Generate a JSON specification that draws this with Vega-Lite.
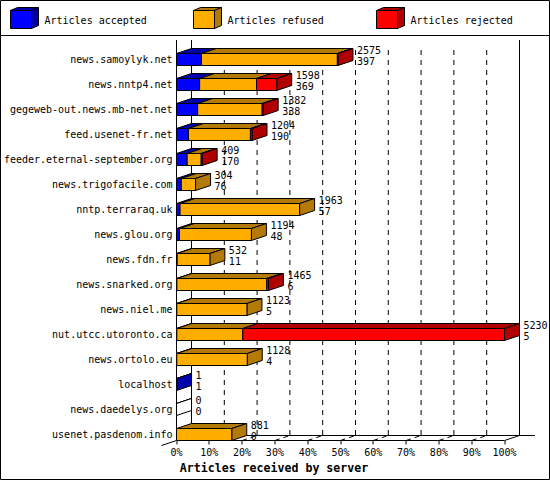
{
  "$schema": "https://vega.github.io/schema/vega-lite/v6.json",
  "padding": {"left": -1, "top": -1, "right": 0, "bottom": 0},
  "spacing": 0,
  "bounds": "flush",
  "background": "white",
  "config": {
    "view": {"stroke": "black", "strokeWidth": 1},
    "text": {"font": "DejaVu Sans Mono", "fontSize": 10, "color": "black"},
    "rule": {"color": "black", "strokeWidth": 1},
    "line": {"stroke": "black", "strokeWidth": 1, "interpolate": "linear-closed"}
  },
  "datasets": {
    "articles": [
      {"server": "news.samoylyk.net", "status": "accepted", "articles": 397},
      {"server": "news.samoylyk.net", "status": "refused", "articles": 2168},
      {"server": "news.samoylyk.net", "status": "rejected", "articles": 10},
      {"server": "news.nntp4.net", "status": "accepted", "articles": 369},
      {"server": "news.nntp4.net", "status": "refused", "articles": 907},
      {"server": "news.nntp4.net", "status": "rejected", "articles": 322},
      {"server": "gegeweb-out.news.mb-net.net", "status": "accepted", "articles": 338},
      {"server": "gegeweb-out.news.mb-net.net", "status": "refused", "articles": 1028},
      {"server": "gegeweb-out.news.mb-net.net", "status": "rejected", "articles": 16},
      {"server": "feed.usenet-fr.net", "status": "accepted", "articles": 190},
      {"server": "feed.usenet-fr.net", "status": "refused", "articles": 989},
      {"server": "feed.usenet-fr.net", "status": "rejected", "articles": 25},
      {"server": "feeder.eternal-september.org", "status": "accepted", "articles": 170},
      {"server": "feeder.eternal-september.org", "status": "refused", "articles": 224},
      {"server": "feeder.eternal-september.org", "status": "rejected", "articles": 15},
      {"server": "news.trigofacile.com", "status": "accepted", "articles": 76},
      {"server": "news.trigofacile.com", "status": "refused", "articles": 228},
      {"server": "nntp.terraraq.uk", "status": "accepted", "articles": 57},
      {"server": "nntp.terraraq.uk", "status": "refused", "articles": 1906},
      {"server": "news.glou.org", "status": "accepted", "articles": 48},
      {"server": "news.glou.org", "status": "refused", "articles": 1146},
      {"server": "news.fdn.fr", "status": "accepted", "articles": 11},
      {"server": "news.fdn.fr", "status": "refused", "articles": 521},
      {"server": "news.snarked.org", "status": "accepted", "articles": 6},
      {"server": "news.snarked.org", "status": "refused", "articles": 1434},
      {"server": "news.snarked.org", "status": "rejected", "articles": 25},
      {"server": "news.niel.me", "status": "accepted", "articles": 5},
      {"server": "news.niel.me", "status": "refused", "articles": 1118},
      {"server": "nut.utcc.utoronto.ca", "status": "accepted", "articles": 5},
      {"server": "nut.utcc.utoronto.ca", "status": "refused", "articles": 1052},
      {"server": "nut.utcc.utoronto.ca", "status": "rejected", "articles": 4173},
      {"server": "news.ortolo.eu", "status": "accepted", "articles": 4},
      {"server": "news.ortolo.eu", "status": "refused", "articles": 1124},
      {"server": "localhost", "status": "accepted", "articles": 1},
      {"server": "news.daedelys.org", "status": "none", "articles": 0},
      {"server": "usenet.pasdenom.info", "status": "refused", "articles": 881}
    ],
    "totals": [
      {"server": "news.samoylyk.net", "total": 2575, "accepted": 397},
      {"server": "news.nntp4.net", "total": 1598, "accepted": 369},
      {"server": "gegeweb-out.news.mb-net.net", "total": 1382, "accepted": 338},
      {"server": "feed.usenet-fr.net", "total": 1204, "accepted": 190},
      {"server": "feeder.eternal-september.org", "total": 409, "accepted": 170},
      {"server": "news.trigofacile.com", "total": 304, "accepted": 76},
      {"server": "nntp.terraraq.uk", "total": 1963, "accepted": 57},
      {"server": "news.glou.org", "total": 1194, "accepted": 48},
      {"server": "news.fdn.fr", "total": 532, "accepted": 11},
      {"server": "news.snarked.org", "total": 1465, "accepted": 6},
      {"server": "news.niel.me", "total": 1123, "accepted": 5},
      {"server": "nut.utcc.utoronto.ca", "total": 5230, "accepted": 5},
      {"server": "news.ortolo.eu", "total": 1128, "accepted": 4},
      {"server": "localhost", "total": 1, "accepted": 1},
      {"server": "news.daedelys.org", "total": 0, "accepted": 0},
      {"server": "usenet.pasdenom.info", "total": 881, "accepted": 0}
    ],
    "ticks": [
      {"tick": 523}, {"tick": 1046}, {"tick": 1569}, {"tick": 2092}, {"tick": 2615},
      {"tick": 3138}, {"tick": 3661}, {"tick": 4184}, {"tick": 4707}
    ],
    "legend": [
      {"status": "accepted", "label": "Articles accepted"},
      {"status": "refused", "label": "Articles refused"},
      {"status": "rejected", "label": "Articles rejected"}
    ]
  },
  "vconcat": [
    {
      "width": 549,
      "height": 35,
      "data": {"name": "legend"},
      "layer": [
        {
          "transform": [
            {"calculate": "[0,1,2,3]", "as": "corner"},
            {"flatten": ["corner"]},
            {"calculate": "[-10.5,10.5,17.5,-3.5][datum.corner]", "as": "dx"},
            {"calculate": "[-7,-7,-10,-10][datum.corner]", "as": "dy"},
            {"calculate": "datum.status + ' dark'", "as": "shade"}
          ],
          "mark": {"type": "line", "filled": true, "stroke": "black"},
          "encoding": {
            "x": {"field": "status", "type": "nominal", "axis": null, "scale": {"type": "point", "padding": 0, "domain": ["accepted", "refused", "rejected"], "range": [21, 387]}},
            "xOffset": {"field": "dx", "type": "quantitative", "scale": null},
            "yOffset": {"field": "dy", "type": "quantitative", "scale": null},
            "order": {"field": "corner"},
            "fill": {"field": "shade", "type": "nominal", "legend": null, "scale": {"domain": ["accepted", "refused", "rejected", "none", "accepted dark", "refused dark", "rejected dark", "none dark"], "range": ["#0000ff", "#ffae00", "#ff0000", "#ffffff", "#0000aa", "#b47a08", "#b00000", "#ffffff"]}}
          }
        },
        {
          "transform": [
            {"calculate": "[0,1,2,3]", "as": "corner"},
            {"flatten": ["corner"]},
            {"calculate": "[10.5,10.5,17.5,17.5][datum.corner]", "as": "dx"},
            {"calculate": "[-7,11,8,-10][datum.corner]", "as": "dy"},
            {"calculate": "datum.status + ' dark'", "as": "shade"}
          ],
          "mark": {"type": "line", "filled": true, "stroke": "black"},
          "encoding": {
            "x": {"field": "status", "type": "nominal", "axis": null},
            "xOffset": {"field": "dx", "type": "quantitative", "scale": null},
            "yOffset": {"field": "dy", "type": "quantitative", "scale": null},
            "order": {"field": "corner"},
            "fill": {"field": "shade", "type": "nominal", "legend": null}
          }
        },
        {
          "transform": [
            {"calculate": "[0,1,2,3]", "as": "corner"},
            {"flatten": ["corner"]},
            {"calculate": "[-10.5,10.5,10.5,-10.5][datum.corner]", "as": "dx"},
            {"calculate": "[-7,-7,11,11][datum.corner]", "as": "dy"}
          ],
          "mark": {"type": "line", "filled": true, "stroke": "black"},
          "encoding": {
            "x": {"field": "status", "type": "nominal", "axis": null},
            "xOffset": {"field": "dx", "type": "quantitative", "scale": null},
            "yOffset": {"field": "dy", "type": "quantitative", "scale": null},
            "order": {"field": "corner"},
            "fill": {"field": "status", "type": "nominal", "legend": null}
          }
        },
        {
          "mark": {"type": "text", "align": "left", "xOffset": 23.5, "yOffset": 3},
          "encoding": {
            "x": {"field": "status", "type": "nominal", "axis": null},
            "text": {"field": "label"}
          }
        }
      ]
    },
    {
      "width": 549,
      "height": 444,
      "resolve": {"axis": {"x": "independent", "y": "independent"}},
      "layer": [
        {
          "data": {"name": "ticks"},
          "mark": {"type": "rule", "xOffset": 15, "yOffset": -9.5, "y2Offset": 1, "strokeDash": [5, 5]},
          "encoding": {
            "x": {
              "field": "tick",
              "type": "quantitative",
              "title": "Articles received by server",
              "scale": {"domain": [0, 5230], "range": [176.5, 504.5], "nice": false, "zero": false},
              "axis": {
                "titleFont": "DejaVu Sans Mono",
                "titleFontSize": 11.6,
                "titleFontWeight": "bold",
                "titleColor": "black",
                "titleX": 274,
                "titleY": 22,
                "offset": -38.5,
                "translate": 0,
                "grid": false,
                "values": [0, 523, 1046, 1569, 2092, 2615, 3138, 3661, 4184, 4707, 5230],
                "labelExpr": "format(datum.value / 5230, '.0%')",
                "labelFont": "DejaVu Sans Mono",
                "labelFontSize": 10,
                "labelColor": "black",
                "labelPadding": 3,
                "labelFlush": false,
                "labelOverlap": false,
                "domainColor": "black",
                "tickColor": "black",
                "tickSize": 4
              }
            },
            "y": {
              "datum": "news.samoylyk.net",
              "type": "nominal",
              "axis": null,
              "scale": {
                "type": "band",
                "domain": ["news.samoylyk.net", "news.nntp4.net", "gegeweb-out.news.mb-net.net", "feed.usenet-fr.net", "feeder.eternal-september.org", "news.trigofacile.com", "nntp.terraraq.uk", "news.glou.org", "news.fdn.fr", "news.snarked.org", "news.niel.me", "nut.utcc.utoronto.ca", "news.ortolo.eu", "localhost", "news.daedelys.org", "usenet.pasdenom.info"],
                "range": [12, 412],
                "paddingInner": 0,
                "paddingOuter": 0
              }
            },
            "y2": {"datum": "usenet.pasdenom.info"}
          }
        },
        {
          "data": {"name": "ticks"},
          "mark": {"type": "rule", "x2Offset": 15, "yOffset": 6, "y2Offset": 1, "strokeDash": [5, 4]},
          "encoding": {
            "x": {"field": "tick", "type": "quantitative", "axis": null},
            "x2": {"field": "tick"},
            "y": {"datum": "usenet.pasdenom.info", "type": "nominal", "axis": null},
            "y2": {"datum": "usenet.pasdenom.info"}
          }
        },
        {
          "data": {"values": [{"edge": "front"}]},
          "mark": {"type": "rule", "yOffset": -19.5, "y2Offset": 6},
          "encoding": {
            "x": {"datum": 0, "type": "quantitative", "axis": null},
            "y": {"datum": "news.samoylyk.net", "type": "nominal", "axis": null},
            "y2": {"datum": "usenet.pasdenom.info"}
          }
        },
        {
          "data": {"values": [{"edge": "back"}]},
          "mark": {"type": "rule", "xOffset": 15, "yOffset": -19.5, "y2Offset": 1},
          "encoding": {
            "x": {"datum": 0, "type": "quantitative", "axis": null},
            "y": {"datum": "news.samoylyk.net", "type": "nominal", "axis": null},
            "y2": {"datum": "usenet.pasdenom.info"}
          }
        },
        {
          "data": {"values": [{"edge": "right"}]},
          "mark": {"type": "rule", "xOffset": 15, "yOffset": -19.5, "y2Offset": 1},
          "encoding": {
            "x": {"datum": 5230, "type": "quantitative", "axis": null},
            "y": {"datum": "news.samoylyk.net", "type": "nominal", "axis": null},
            "y2": {"datum": "usenet.pasdenom.info"}
          }
        },
        {
          "data": {"values": [{"edge": "floor"}]},
          "mark": {"type": "rule", "xOffset": 15, "x2Offset": 30.5, "yOffset": 1, "y2Offset": 1},
          "encoding": {
            "x": {"datum": 0, "type": "quantitative", "axis": null},
            "x2": {"datum": 5230},
            "y": {"datum": "usenet.pasdenom.info", "type": "nominal", "axis": null},
            "y2": {"datum": "usenet.pasdenom.info"}
          }
        },
        {
          "data": {"values": [{"edge": "corner"}]},
          "mark": {"type": "rule", "x2Offset": 15, "yOffset": 6, "y2Offset": 1},
          "encoding": {
            "x": {"datum": 5230, "type": "quantitative", "axis": null},
            "x2": {"datum": 5230},
            "y": {"datum": "usenet.pasdenom.info", "type": "nominal", "axis": null},
            "y2": {"datum": "usenet.pasdenom.info"}
          }
        },
        {
          "data": {"values": [{"edge": "stub"}]},
          "mark": {"type": "rule", "xOffset": -15, "yOffset": 11, "y2Offset": 6},
          "encoding": {
            "x": {"datum": 0, "type": "quantitative", "axis": null},
            "x2": {"datum": 0},
            "y": {"datum": "usenet.pasdenom.info", "type": "nominal", "axis": null},
            "y2": {"datum": "usenet.pasdenom.info"}
          }
        },
        {
          "data": {"name": "articles"},
          "transform": [
            {"stack": "articles", "groupby": ["server"], "sort": [{"field": "status"}], "as": ["x0", "x1"]},
            {"calculate": "[0,1,2,3]", "as": "corner"},
            {"flatten": ["corner"]},
            {"calculate": "[datum.x0,datum.x1,datum.x1+239.17,datum.x0+239.17][datum.corner]", "as": "xv"},
            {"calculate": "[6.5,6.5,1.5,1.5][datum.corner]", "as": "dy"},
            {"calculate": "datum.status + ' dark'", "as": "shade"}
          ],
          "mark": {"type": "line", "filled": true, "stroke": "black"},
          "encoding": {
            "x": {"field": "xv", "type": "quantitative", "axis": null},
            "y": {
              "field": "server",
              "type": "nominal",
              "title": null,
              "axis": {
                "offset": -176.5,
                "translate": 0,
                "domain": false,
                "ticks": false,
                "grid": false,
                "labelFont": "DejaVu Sans Mono",
                "labelFontSize": 10,
                "labelColor": "black",
                "labelPadding": 4,
                "labelOffset": 1,
                "labelLimit": 200
              }
            },
            "yOffset": {"field": "dy", "type": "quantitative", "scale": null},
            "order": {"field": "corner"},
            "detail": [{"field": "server"}, {"field": "status"}],
            "fill": {"field": "shade", "type": "nominal", "legend": null}
          }
        },
        {
          "data": {"name": "articles"},
          "transform": [
            {"stack": "articles", "groupby": ["server"], "sort": [{"field": "status"}], "as": ["x0", "x1"]},
            {"joinaggregate": [{"op": "max", "field": "x1", "as": "end"}], "groupby": ["server"]},
            {"filter": "datum.x1 === datum.end"},
            {"calculate": "[0,1,2,3]", "as": "corner"},
            {"flatten": ["corner"]},
            {"calculate": "[datum.x1,datum.x1,datum.x1+239.17,datum.x1+239.17][datum.corner]", "as": "xv"},
            {"calculate": "[6.5,18.5,13.5,1.5][datum.corner]", "as": "dy"},
            {"calculate": "datum.status + ' dark'", "as": "shade"}
          ],
          "mark": {"type": "line", "filled": true, "stroke": "black"},
          "encoding": {
            "x": {"field": "xv", "type": "quantitative", "axis": null},
            "y": {"field": "server", "type": "nominal", "axis": null},
            "yOffset": {"field": "dy", "type": "quantitative", "scale": null},
            "order": {"field": "corner"},
            "detail": {"field": "server"},
            "fill": {"field": "shade", "type": "nominal", "legend": null}
          }
        },
        {
          "data": {"name": "articles"},
          "transform": [
            {"stack": "articles", "groupby": ["server"], "sort": [{"field": "status"}], "as": ["x0", "x1"]}
          ],
          "mark": {"type": "bar", "height": 12, "stroke": "black", "strokeWidth": 1},
          "encoding": {
            "x": {"field": "x0", "type": "quantitative", "axis": null},
            "x2": {"field": "x1"},
            "y": {"field": "server", "type": "nominal", "axis": null},
            "fill": {"field": "status", "type": "nominal", "legend": null}
          }
        },
        {
          "data": {"name": "totals"},
          "mark": {"type": "text", "align": "left", "xOffset": 19, "yOffset": -9},
          "encoding": {
            "x": {"field": "total", "type": "quantitative", "axis": null},
            "y": {"field": "server", "type": "nominal", "axis": null},
            "text": {"field": "total"}
          }
        },
        {
          "data": {"name": "totals"},
          "mark": {"type": "text", "align": "left", "xOffset": 19, "yOffset": 2},
          "encoding": {
            "x": {"field": "total", "type": "quantitative", "axis": null},
            "y": {"field": "server", "type": "nominal", "axis": null},
            "text": {"field": "accepted"}
          }
        }
      ]
    }
  ]
}
